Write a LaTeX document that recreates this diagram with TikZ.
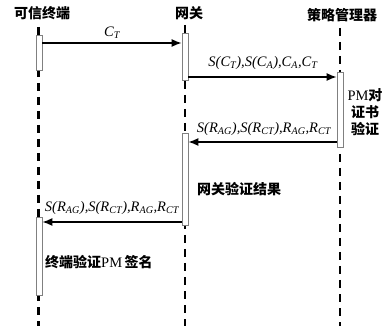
\documentclass[tikz,border=0pt]{standalone}
\usepackage{fontspec}
\setmainfont{Liberation Serif}
\newfontfamily\cjk{Noto Sans CJK SC}
\newfontfamily\serifpm{Liberation Serif}
\usetikzlibrary{arrows.meta}
\newcommand{\sbs}[1]{\textsubscript{\itshape #1}}
\tikzset{
  lifeline/.style={line width=2.6pt, dash pattern=on 8pt off 6pt},
  actbox/.style={draw=gray, fill=white, line width=0.6pt, minimum width=6pt, inner sep=0pt, anchor=north},
  msg/.style={line width=1.6pt, -{Latex[length=10pt,width=8pt]}},
  head/.style={font=\cjk\bfseries\fontsize{14}{16}\selectfont, inner sep=0pt},
  note/.style={font=\cjk\bfseries\fontsize{14}{17}\selectfont, inner sep=0pt},
  lbl/.style={font=\itshape\fontsize{14.5}{16}\selectfont, inner sep=0pt}
}
\begin{document}
\begin{tikzpicture}[x=1pt,y=-1pt]
\useasboundingbox (0,0) rectangle (386,326);
% headers
\node[head] (hT) at (42,13) {可信终端};
\node[head] (hG) at (189,13) {网关};
\node[head] (hP) at (342,15) {策略管理器};
% lifeline anchors
\coordinate (tTop) at (38.5,27);
\coordinate (tBot) at (38.5,326);
\coordinate (gTop) at (185,25);
\coordinate (gBot) at (185,326);
\coordinate (pTop) at (340,28);
\coordinate (pBot) at (340,326);
\draw[lifeline] (tTop) -- (tBot);
\draw[lifeline] (gTop) -- (gBot);
\draw[lifeline] (pTop) -- (pBot);
% activation boxes
\node[actbox, minimum height=35pt] (t1) at (39,35) {};
\node[actbox, minimum height=47pt] (g1) at (185,33) {};
\node[actbox, minimum height=75pt] (p1) at (340,72) {};
\node[actbox, minimum height=92pt] (g2) at (185,133) {};
\node[actbox, minimum height=78pt] (t2) at (39,217) {};
% message levels
\coordinate (y1) at (0,43);
\coordinate (y2) at (0,77);
\coordinate (y3) at (0,142);
\coordinate (y4) at (0,222);
\draw[msg] (t1.east |- y1) -- (g1.west |- y1);
\draw[msg] (g1.east |- y2) -- (p1.west |- y2);
\draw[msg] (p1.west |- y3) -- (g2.east |- y3);
\draw[msg] (g2.west |- y4) -- (t2.east |- y4);
% labels
\node[lbl] (l1) at (112,33) {C\sbs{T}};
\node[lbl] (l2) at (263,63) {S(C\sbs{T}),S(C\sbs{A}),C\sbs{A},C\sbs{T}};
\node[lbl] (l3) at (264,129) {S(R\sbs{AG}),S(R\sbs{CT}),R\sbs{AG},R\sbs{CT}};
\node[lbl] (l4) at (112,208) {S(R\sbs{AG}),S(R\sbs{CT}),R\sbs{AG},R\sbs{CT}};
% notes
\node[note, align=center] (n1) at (365,112) {{\serifpm\mdseries\fontsize{14.5}{17}\selectfont PM}对\\证书\\验证};
\node[note, anchor=west] (n2) at (197,189) {网关验证结果};
\node[note, anchor=west] (n3) at (45,262) {终端验证{\serifpm\mdseries\fontsize{14.5}{17}\selectfont PM\,}签名};
\end{tikzpicture}
\end{document}
